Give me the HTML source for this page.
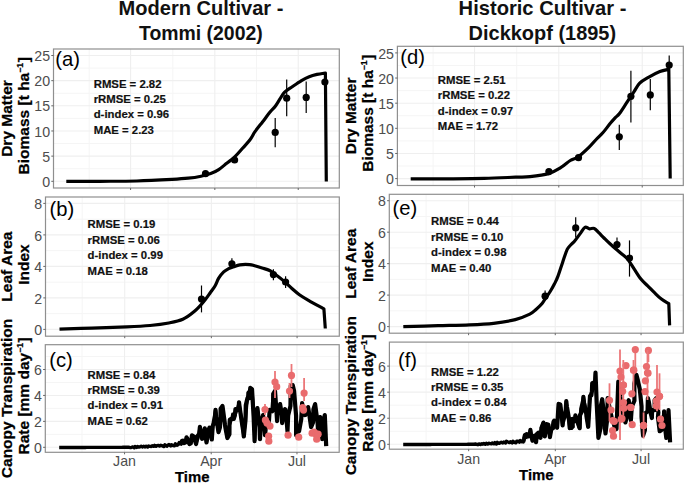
<!DOCTYPE html>
<html><head><meta charset="utf-8"><style>
html,body{margin:0;padding:0;background:#fff;}
svg{display:block;font-family:"Liberation Sans", sans-serif;}
</style></head><body>
<svg width="685" height="484" viewBox="0 0 685 484">
<rect width="685" height="484" fill="#fff"/>
<rect x="53.5" y="49.0" width="285.80" height="139.00" fill="#fff"/>
<line x1="53.5" x2="339.3" y1="168.72" y2="168.72" stroke="#F5F5F5" stroke-width="1"/>
<line x1="53.5" x2="339.3" y1="143.56" y2="143.56" stroke="#F5F5F5" stroke-width="1"/>
<line x1="53.5" x2="339.3" y1="118.40" y2="118.40" stroke="#F5F5F5" stroke-width="1"/>
<line x1="53.5" x2="339.3" y1="93.24" y2="93.24" stroke="#F5F5F5" stroke-width="1"/>
<line x1="53.5" x2="339.3" y1="68.08" y2="68.08" stroke="#F5F5F5" stroke-width="1"/>
<line x1="89.22" x2="89.22" y1="49.0" y2="188.0" stroke="#F5F5F5" stroke-width="1"/>
<line x1="172.79" x2="172.79" y1="49.0" y2="188.0" stroke="#F5F5F5" stroke-width="1"/>
<line x1="256.59" x2="256.59" y1="49.0" y2="188.0" stroke="#F5F5F5" stroke-width="1"/>
<line x1="53.5" x2="339.3" y1="181.30" y2="181.30" stroke="#EFEFEF" stroke-width="1.1"/>
<line x1="53.5" x2="339.3" y1="156.14" y2="156.14" stroke="#EFEFEF" stroke-width="1.1"/>
<line x1="53.5" x2="339.3" y1="130.98" y2="130.98" stroke="#EFEFEF" stroke-width="1.1"/>
<line x1="53.5" x2="339.3" y1="105.82" y2="105.82" stroke="#EFEFEF" stroke-width="1.1"/>
<line x1="53.5" x2="339.3" y1="80.66" y2="80.66" stroke="#EFEFEF" stroke-width="1.1"/>
<line x1="53.5" x2="339.3" y1="55.50" y2="55.50" stroke="#EFEFEF" stroke-width="1.1"/>
<line x1="130.58" x2="130.58" y1="49.0" y2="188.0" stroke="#EFEFEF" stroke-width="1.1"/>
<line x1="214.83" x2="214.83" y1="49.0" y2="188.0" stroke="#EFEFEF" stroke-width="1.1"/>
<line x1="298.23" x2="298.23" y1="49.0" y2="188.0" stroke="#EFEFEF" stroke-width="1.1"/>
<rect x="45.5" y="197.0" width="293.80" height="139.20" fill="#fff"/>
<line x1="45.5" x2="339.3" y1="313.65" y2="313.65" stroke="#F5F5F5" stroke-width="1"/>
<line x1="45.5" x2="339.3" y1="282.15" y2="282.15" stroke="#F5F5F5" stroke-width="1"/>
<line x1="45.5" x2="339.3" y1="250.65" y2="250.65" stroke="#F5F5F5" stroke-width="1"/>
<line x1="45.5" x2="339.3" y1="219.15" y2="219.15" stroke="#F5F5F5" stroke-width="1"/>
<line x1="82.22" x2="82.22" y1="197.0" y2="336.2" stroke="#F5F5F5" stroke-width="1"/>
<line x1="168.13" x2="168.13" y1="197.0" y2="336.2" stroke="#F5F5F5" stroke-width="1"/>
<line x1="254.27" x2="254.27" y1="197.0" y2="336.2" stroke="#F5F5F5" stroke-width="1"/>
<line x1="45.5" x2="339.3" y1="329.40" y2="329.40" stroke="#EFEFEF" stroke-width="1.1"/>
<line x1="45.5" x2="339.3" y1="297.90" y2="297.90" stroke="#EFEFEF" stroke-width="1.1"/>
<line x1="45.5" x2="339.3" y1="266.40" y2="266.40" stroke="#EFEFEF" stroke-width="1.1"/>
<line x1="45.5" x2="339.3" y1="234.90" y2="234.90" stroke="#EFEFEF" stroke-width="1.1"/>
<line x1="45.5" x2="339.3" y1="203.40" y2="203.40" stroke="#EFEFEF" stroke-width="1.1"/>
<line x1="124.74" x2="124.74" y1="197.0" y2="336.2" stroke="#EFEFEF" stroke-width="1.1"/>
<line x1="211.35" x2="211.35" y1="197.0" y2="336.2" stroke="#EFEFEF" stroke-width="1.1"/>
<line x1="297.08" x2="297.08" y1="197.0" y2="336.2" stroke="#EFEFEF" stroke-width="1.1"/>
<rect x="45.3" y="344.7" width="293.90" height="107.60" fill="#fff"/>
<line x1="45.3" x2="339.2" y1="434.33" y2="434.33" stroke="#F5F5F5" stroke-width="1"/>
<line x1="45.3" x2="339.2" y1="408.40" y2="408.40" stroke="#F5F5F5" stroke-width="1"/>
<line x1="45.3" x2="339.2" y1="382.47" y2="382.47" stroke="#F5F5F5" stroke-width="1"/>
<line x1="45.3" x2="339.2" y1="356.53" y2="356.53" stroke="#F5F5F5" stroke-width="1"/>
<line x1="82.04" x2="82.04" y1="344.7" y2="452.3" stroke="#F5F5F5" stroke-width="1"/>
<line x1="167.97" x2="167.97" y1="344.7" y2="452.3" stroke="#F5F5F5" stroke-width="1"/>
<line x1="254.15" x2="254.15" y1="344.7" y2="452.3" stroke="#F5F5F5" stroke-width="1"/>
<line x1="45.3" x2="339.2" y1="447.30" y2="447.30" stroke="#EFEFEF" stroke-width="1.1"/>
<line x1="45.3" x2="339.2" y1="421.37" y2="421.37" stroke="#EFEFEF" stroke-width="1.1"/>
<line x1="45.3" x2="339.2" y1="395.43" y2="395.43" stroke="#EFEFEF" stroke-width="1.1"/>
<line x1="45.3" x2="339.2" y1="369.50" y2="369.50" stroke="#EFEFEF" stroke-width="1.1"/>
<line x1="124.56" x2="124.56" y1="344.7" y2="452.3" stroke="#EFEFEF" stroke-width="1.1"/>
<line x1="211.21" x2="211.21" y1="344.7" y2="452.3" stroke="#EFEFEF" stroke-width="1.1"/>
<line x1="296.97" x2="296.97" y1="344.7" y2="452.3" stroke="#EFEFEF" stroke-width="1.1"/>
<rect x="397.4" y="46.3" width="285.90" height="139.20" fill="#fff"/>
<line x1="397.4" x2="683.3" y1="166.03" y2="166.03" stroke="#F5F5F5" stroke-width="1"/>
<line x1="397.4" x2="683.3" y1="140.89" y2="140.89" stroke="#F5F5F5" stroke-width="1"/>
<line x1="397.4" x2="683.3" y1="115.75" y2="115.75" stroke="#F5F5F5" stroke-width="1"/>
<line x1="397.4" x2="683.3" y1="90.61" y2="90.61" stroke="#F5F5F5" stroke-width="1"/>
<line x1="397.4" x2="683.3" y1="65.47" y2="65.47" stroke="#F5F5F5" stroke-width="1"/>
<line x1="433.14" x2="433.14" y1="46.3" y2="185.5" stroke="#F5F5F5" stroke-width="1"/>
<line x1="516.73" x2="516.73" y1="46.3" y2="185.5" stroke="#F5F5F5" stroke-width="1"/>
<line x1="600.56" x2="600.56" y1="46.3" y2="185.5" stroke="#F5F5F5" stroke-width="1"/>
<line x1="397.4" x2="683.3" y1="178.60" y2="178.60" stroke="#EFEFEF" stroke-width="1.1"/>
<line x1="397.4" x2="683.3" y1="153.46" y2="153.46" stroke="#EFEFEF" stroke-width="1.1"/>
<line x1="397.4" x2="683.3" y1="128.32" y2="128.32" stroke="#EFEFEF" stroke-width="1.1"/>
<line x1="397.4" x2="683.3" y1="103.18" y2="103.18" stroke="#EFEFEF" stroke-width="1.1"/>
<line x1="397.4" x2="683.3" y1="78.04" y2="78.04" stroke="#EFEFEF" stroke-width="1.1"/>
<line x1="397.4" x2="683.3" y1="52.90" y2="52.90" stroke="#EFEFEF" stroke-width="1.1"/>
<line x1="474.51" x2="474.51" y1="46.3" y2="185.5" stroke="#EFEFEF" stroke-width="1.1"/>
<line x1="558.79" x2="558.79" y1="46.3" y2="185.5" stroke="#EFEFEF" stroke-width="1.1"/>
<line x1="642.22" x2="642.22" y1="46.3" y2="185.5" stroke="#EFEFEF" stroke-width="1.1"/>
<rect x="389.3" y="194.3" width="294.00" height="138.90" fill="#fff"/>
<line x1="389.3" x2="683.3" y1="310.86" y2="310.86" stroke="#F5F5F5" stroke-width="1"/>
<line x1="389.3" x2="683.3" y1="279.39" y2="279.39" stroke="#F5F5F5" stroke-width="1"/>
<line x1="389.3" x2="683.3" y1="247.91" y2="247.91" stroke="#F5F5F5" stroke-width="1"/>
<line x1="389.3" x2="683.3" y1="216.44" y2="216.44" stroke="#F5F5F5" stroke-width="1"/>
<line x1="426.05" x2="426.05" y1="194.3" y2="333.2" stroke="#F5F5F5" stroke-width="1"/>
<line x1="512.02" x2="512.02" y1="194.3" y2="333.2" stroke="#F5F5F5" stroke-width="1"/>
<line x1="598.22" x2="598.22" y1="194.3" y2="333.2" stroke="#F5F5F5" stroke-width="1"/>
<line x1="389.3" x2="683.3" y1="326.60" y2="326.60" stroke="#EFEFEF" stroke-width="1.1"/>
<line x1="389.3" x2="683.3" y1="295.12" y2="295.12" stroke="#EFEFEF" stroke-width="1.1"/>
<line x1="389.3" x2="683.3" y1="263.65" y2="263.65" stroke="#EFEFEF" stroke-width="1.1"/>
<line x1="389.3" x2="683.3" y1="232.18" y2="232.18" stroke="#EFEFEF" stroke-width="1.1"/>
<line x1="389.3" x2="683.3" y1="200.70" y2="200.70" stroke="#EFEFEF" stroke-width="1.1"/>
<line x1="468.59" x2="468.59" y1="194.3" y2="333.2" stroke="#EFEFEF" stroke-width="1.1"/>
<line x1="555.26" x2="555.26" y1="194.3" y2="333.2" stroke="#EFEFEF" stroke-width="1.1"/>
<line x1="641.05" x2="641.05" y1="194.3" y2="333.2" stroke="#EFEFEF" stroke-width="1.1"/>
<rect x="389.4" y="342.1" width="293.90" height="107.10" fill="#fff"/>
<line x1="389.4" x2="683.3" y1="431.27" y2="431.27" stroke="#F5F5F5" stroke-width="1"/>
<line x1="389.4" x2="683.3" y1="405.20" y2="405.20" stroke="#F5F5F5" stroke-width="1"/>
<line x1="389.4" x2="683.3" y1="379.13" y2="379.13" stroke="#F5F5F5" stroke-width="1"/>
<line x1="389.4" x2="683.3" y1="353.07" y2="353.07" stroke="#F5F5F5" stroke-width="1"/>
<line x1="426.14" x2="426.14" y1="342.1" y2="449.2" stroke="#F5F5F5" stroke-width="1"/>
<line x1="512.07" x2="512.07" y1="342.1" y2="449.2" stroke="#F5F5F5" stroke-width="1"/>
<line x1="598.25" x2="598.25" y1="342.1" y2="449.2" stroke="#F5F5F5" stroke-width="1"/>
<line x1="389.4" x2="683.3" y1="444.30" y2="444.30" stroke="#EFEFEF" stroke-width="1.1"/>
<line x1="389.4" x2="683.3" y1="418.23" y2="418.23" stroke="#EFEFEF" stroke-width="1.1"/>
<line x1="389.4" x2="683.3" y1="392.17" y2="392.17" stroke="#EFEFEF" stroke-width="1.1"/>
<line x1="389.4" x2="683.3" y1="366.10" y2="366.10" stroke="#EFEFEF" stroke-width="1.1"/>
<line x1="468.66" x2="468.66" y1="342.1" y2="449.2" stroke="#EFEFEF" stroke-width="1.1"/>
<line x1="555.31" x2="555.31" y1="342.1" y2="449.2" stroke="#EFEFEF" stroke-width="1.1"/>
<line x1="641.07" x2="641.07" y1="342.1" y2="449.2" stroke="#EFEFEF" stroke-width="1.1"/>
<path d="M66.30,181.40 C71.92,181.38 88.25,181.37 100.00,181.30 C111.75,181.23 124.78,181.32 136.80,181.00 C148.82,180.68 163.53,179.87 172.10,179.40 C180.67,178.93 183.38,178.73 188.20,178.20 C193.02,177.67 197.25,176.97 201.00,176.20 C204.75,175.43 207.75,174.70 210.70,173.60 C213.65,172.50 216.03,171.32 218.70,169.60 C221.37,167.88 224.03,165.42 226.70,163.30 C229.37,161.18 232.02,159.45 234.70,156.90 C237.38,154.35 240.25,150.85 242.80,148.00 C245.35,145.15 247.97,142.52 250.00,139.80 C252.03,137.08 252.88,134.72 255.00,131.70 C257.12,128.68 260.12,125.05 262.70,121.70 C265.28,118.35 268.43,114.13 270.50,111.60 C272.57,109.07 273.55,108.57 275.10,106.50 C276.65,104.43 278.25,101.55 279.80,99.20 C281.35,96.85 282.33,94.47 284.40,92.40 C286.47,90.33 289.35,88.77 292.20,86.80 C295.05,84.83 298.67,82.28 301.50,80.60 C304.33,78.92 306.62,77.73 309.20,76.70 C311.78,75.67 314.30,75.02 317.00,74.40 C319.70,73.78 324.00,73.23 325.40,73.00 L326.30,181.50" fill="none" stroke="#000" stroke-width="3.2" stroke-linejoin="round" stroke-linecap="butt"/>
<circle cx="205.50" cy="173.70" r="3.6" fill="#000"/>
<circle cx="234.60" cy="160.00" r="3.6" fill="#000"/>
<line x1="275.20" x2="275.20" y1="117.90" y2="147.20" stroke="#000" stroke-width="1.2"/>
<circle cx="275.20" cy="132.40" r="3.6" fill="#000"/>
<line x1="286.70" x2="286.70" y1="79.50" y2="116.30" stroke="#000" stroke-width="1.2"/>
<circle cx="286.70" cy="98.20" r="3.6" fill="#000"/>
<line x1="306.20" x2="306.20" y1="81.50" y2="113.00" stroke="#000" stroke-width="1.2"/>
<circle cx="306.20" cy="97.40" r="3.6" fill="#000"/>
<line x1="324.90" x2="324.90" y1="72.00" y2="92.00" stroke="#000" stroke-width="1.2"/>
<circle cx="324.90" cy="82.00" r="3.6" fill="#000"/>
<path d="M59.50,329.20 C64.87,329.02 80.48,328.48 91.70,328.10 C102.92,327.72 117.07,327.33 126.80,326.90 C136.53,326.47 143.10,326.15 150.10,325.50 C157.10,324.85 163.35,324.03 168.80,323.00 C174.25,321.97 178.52,321.25 182.80,319.30 C187.08,317.35 191.07,314.18 194.50,311.30 C197.93,308.42 200.75,305.13 203.40,302.00 C206.05,298.87 208.47,295.17 210.40,292.50 C212.33,289.83 213.62,288.38 215.00,286.00 C216.38,283.62 217.25,280.55 218.70,278.20 C220.15,275.85 222.05,273.48 223.70,271.90 C225.35,270.32 226.95,269.55 228.60,268.70 C230.25,267.85 231.73,267.45 233.60,266.80 C235.47,266.15 237.12,265.17 239.80,264.80 C242.48,264.43 247.22,264.43 249.70,264.60 C252.18,264.77 252.63,265.23 254.70,265.80 C256.77,266.37 259.62,267.22 262.10,268.00 C264.58,268.78 267.32,269.37 269.60,270.50 C271.88,271.63 273.32,272.95 275.80,274.80 C278.28,276.65 281.82,279.32 284.50,281.60 C287.18,283.88 289.42,286.32 291.90,288.50 C294.38,290.68 296.63,292.73 299.40,294.70 C302.17,296.67 304.42,297.93 308.50,300.30 C312.58,302.67 321.33,307.47 323.90,308.90 L325.30,328.50" fill="none" stroke="#000" stroke-width="3.2" stroke-linejoin="round" stroke-linecap="butt"/>
<line x1="201.50" x2="201.50" y1="285.50" y2="312.40" stroke="#000" stroke-width="1.2"/>
<circle cx="201.50" cy="299.10" r="3.6" fill="#000"/>
<line x1="231.90" x2="231.90" y1="258.20" y2="267.60" stroke="#000" stroke-width="1.2"/>
<circle cx="231.90" cy="263.80" r="3.6" fill="#000"/>
<line x1="273.40" x2="273.40" y1="269.20" y2="280.20" stroke="#000" stroke-width="1.2"/>
<circle cx="273.40" cy="274.60" r="3.6" fill="#000"/>
<line x1="285.60" x2="285.60" y1="276.20" y2="287.90" stroke="#000" stroke-width="1.2"/>
<circle cx="285.60" cy="282.00" r="3.6" fill="#000"/>
<path d="M59.20,447.50 L60.45,447.50 L61.70,447.49 L62.95,447.49 L64.20,447.49 L65.45,447.48 L66.70,447.48 L67.95,447.48 L69.20,447.47 L70.45,447.47 L71.70,447.47 L72.95,447.46 L74.20,447.46 L75.45,447.46 L76.70,447.45 L77.95,447.45 L79.20,447.44 L80.45,447.44 L81.70,447.44 L82.95,447.43 L84.20,447.43 L85.45,447.43 L86.70,447.42 L87.95,447.42 L89.20,447.42 L90.45,447.41 L91.70,447.41 L92.95,447.41 L94.20,447.40 L95.45,447.40 L96.70,447.40 L97.95,447.39 L99.20,447.39 L100.45,447.39 L101.70,447.38 L102.95,447.38 L104.20,447.38 L105.45,447.37 L106.70,447.37 L107.95,447.37 L109.20,447.36 L110.45,447.36 L111.70,447.36 L112.95,447.35 L114.20,447.35 L115.45,447.34 L116.70,447.34 L117.95,447.34 L119.20,447.33 L120.45,447.33 L121.70,447.33 L122.95,447.32 L124.20,447.32 L125.45,447.32 L126.70,447.31 L127.95,447.31 L129.20,447.31 L130.55,447.60 L131.70,447.30 L132.74,446.87 L134.25,447.80 L135.07,446.47 L136.63,447.40 L137.55,446.38 L138.88,447.16 L140.00,446.80 L141.15,446.15 L142.65,447.03 L143.68,446.23 L145.14,446.95 L146.15,446.20 L147.63,447.08 L148.62,446.03 L150.00,446.40 L151.29,446.56 L152.24,445.68 L153.70,446.33 L154.57,445.37 L156.02,446.27 L157.00,445.60 L158.28,445.39 L159.87,446.09 L160.79,445.28 L162.40,445.90 L164.02,446.56 L164.88,444.86 L166.82,446.19 L168.00,445.00 L169.00,444.54 L170.73,445.95 L171.51,444.72 L173.00,445.50 L174.49,445.70 L175.35,443.87 L177.27,445.32 L178.30,444.40 L179.22,442.62 L181.21,444.25 L182.00,441.00" fill="none" stroke="#000" stroke-width="3.4" stroke-linejoin="round" stroke-linecap="butt"/>
<path d="M181.21,444.25 L182.00,441.00 L182.77,440.62 L184.00,443.00 L185.49,442.47 L186.50,437.30 L187.22,438.42 L189.40,444.00 L190.77,443.36 L191.50,439.00 L191.96,435.45 L193.90,436.50 L195.49,442.31 L196.10,444.00 L196.96,436.73 L199.21,433.91 L199.90,426.90 L200.56,430.21 L202.10,438.80 L204.22,435.45 L204.80,428.40 L206.50,442.50 L207.35,432.74 L209.50,427.60 L211.56,435.93 L211.80,439.50 L212.72,425.84 L214.80,421.78 L215.50,409.80 L216.15,416.98 L218.50,432.10 L219.95,427.46 L220.50,418.00 L220.61,408.78 L222.50,406.00 L224.29,419.34 L225.00,425.00 L225.42,427.78 L227.40,438.00 L229.44,434.26 L229.50,425.00 L229.84,419.69 L231.80,418.70 L233.72,419.00 L234.80,415.70 L235.45,409.06 L237.00,410.00 L238.72,409.57 L239.00,402.30 L239.69,407.53 L241.50,420.00 L243.15,430.67 L243.80,436.50 L245.50,420.00 L245.78,405.27 L247.50,397.90 L249.67,398.04 L250.00,390.40 L250.31,387.83 L252.00,389.10 L253.63,417.00 L254.60,441.20 L255.09,422.87 L257.40,408.10 L259.58,427.14 L260.00,439.20 L260.77,424.73 L263.00,415.10 L264.56,428.63 L265.00,435.20 L265.88,427.16 L268.15,426.86 L269.00,420.00 L269.67,409.96 L272.35,411.22 L273.10,401.10 L273.20,393.78 L275.00,391.00 L276.36,409.64 L277.10,421.10 L278.24,409.39 L280.10,404.10 L282.02,415.48 L282.10,423.10 L283.13,414.40 L285.10,409.10 L286.89,424.12 L287.50,431.20 L288.15,415.62 L290.45,405.98 L290.70,390.10 L290.76,385.75 L292.70,385.10 L294.10,391.10 L296.08,415.66 L296.10,435.20 L297.09,429.42 L299.10,431.20 L301.23,419.36 L302.10,403.10 L302.84,407.26 L305.10,415.10 L306.91,412.80 L308.10,407.10 L309.09,413.14 L311.10,427.10 L313.05,422.47 L313.42,409.41 L315.10,404.10 L317.58,422.44 L318.10,433.20 L318.77,421.22 L320.20,417.10 L321.93,430.27 L322.20,439.20 L322.82,423.20 L324.80,415.10 L326.20,446.20" fill="none" stroke="#000" stroke-width="4.2" stroke-linejoin="round" stroke-linecap="butt"/>
<path d="M186.50,437.30 L188.62,442.49 L189.40,444.00 L191.50,439.00 L192.33,435.83 L193.90,436.50 L196.10,444.00 L198.33,437.83 L199.90,426.90 L202.10,438.80 L202.96,431.96 L204.80,428.40 L206.50,442.50 L208.34,437.72 L209.50,427.60 L211.80,439.50 L213.09,422.63 L215.50,409.80 L217.39,423.92 L218.50,432.10 L220.50,418.00 L222.50,406.00 L222.83,413.03 L225.00,425.00 L226.96,435.45 L227.40,438.00 L229.50,425.00 L231.80,418.70 L232.59,413.94 L234.80,415.70 L237.00,410.00 L239.00,402.30 L240.57,413.09 L241.50,420.00 L243.80,436.50 L245.50,420.00 L247.50,397.90 L247.81,392.51 L250.00,390.40 L252.00,389.10 L254.27,418.43 L254.60,441.20 L255.25,423.00 L257.40,408.10 L259.51,426.41 L260.00,439.20 L260.50,424.78" fill="none" stroke="#000" stroke-width="3.0" stroke-linejoin="round" stroke-linecap="butt"/>
<line x1="265.00" x2="265.00" y1="404.00" y2="415.00" stroke="#EC7779" stroke-width="1.8"/>
<circle cx="265.00" cy="409.50" r="3.6" fill="#E96B6D"/>
<circle cx="265.40" cy="420.10" r="3.6" fill="#E96B6D"/>
<circle cx="267.00" cy="423.10" r="3.6" fill="#E96B6D"/>
<circle cx="270.00" cy="426.10" r="3.6" fill="#E96B6D"/>
<circle cx="268.60" cy="436.20" r="3.6" fill="#E96B6D"/>
<circle cx="268.80" cy="441.20" r="3.6" fill="#E96B6D"/>
<line x1="275.00" x2="275.00" y1="371.00" y2="398.10" stroke="#EC7779" stroke-width="1.8"/>
<circle cx="275.00" cy="382.00" r="3.6" fill="#E96B6D"/>
<circle cx="276.70" cy="386.70" r="3.6" fill="#E96B6D"/>
<circle cx="288.10" cy="435.20" r="3.6" fill="#E96B6D"/>
<line x1="289.50" x2="289.50" y1="383.00" y2="398.00" stroke="#EC7779" stroke-width="1.8"/>
<circle cx="289.50" cy="391.10" r="3.6" fill="#E96B6D"/>
<line x1="291.50" x2="291.50" y1="364.00" y2="387.00" stroke="#EC7779" stroke-width="1.8"/>
<circle cx="291.50" cy="375.40" r="3.6" fill="#E96B6D"/>
<circle cx="298.70" cy="437.20" r="3.6" fill="#E96B6D"/>
<line x1="304.10" x2="304.10" y1="378.00" y2="401.10" stroke="#EC7779" stroke-width="1.8"/>
<circle cx="304.10" cy="393.10" r="3.6" fill="#E96B6D"/>
<circle cx="302.70" cy="407.50" r="3.6" fill="#E96B6D"/>
<circle cx="303.50" cy="410.10" r="3.6" fill="#E96B6D"/>
<circle cx="312.10" cy="433.20" r="3.6" fill="#E96B6D"/>
<circle cx="314.10" cy="432.20" r="3.6" fill="#E96B6D"/>
<circle cx="316.10" cy="434.20" r="3.6" fill="#E96B6D"/>
<circle cx="316.70" cy="439.20" r="3.6" fill="#E96B6D"/>
<circle cx="318.10" cy="434.20" r="3.6" fill="#E96B6D"/>
<path d="M410.70,178.90 C417.25,178.88 437.75,178.88 450.00,178.80 C462.25,178.72 473.28,178.67 484.20,178.40 C495.12,178.13 507.87,177.50 515.50,177.20 C523.13,176.90 524.48,177.20 530.00,176.60 C535.52,176.00 543.43,175.13 548.60,173.60 C553.77,172.07 557.38,169.58 561.00,167.40 C564.62,165.22 567.47,162.23 570.30,160.50 C573.13,158.77 574.90,159.18 578.00,157.00 C581.10,154.82 585.80,150.40 588.90,147.40 C592.00,144.40 594.28,141.43 596.60,139.00 C598.92,136.57 600.55,135.37 602.80,132.80 C605.05,130.23 608.05,126.08 610.10,123.60 C612.15,121.12 613.53,119.58 615.10,117.90 C616.67,116.22 617.57,116.03 619.50,113.50 C621.43,110.97 624.30,106.32 626.70,102.70 C629.10,99.08 631.73,95.05 633.90,91.80 C636.07,88.55 637.28,85.60 639.70,83.20 C642.12,80.80 645.03,79.33 648.40,77.40 C651.77,75.47 656.50,72.95 659.90,71.60 C663.30,70.25 667.32,69.68 668.80,69.30 L670.20,178.40" fill="none" stroke="#000" stroke-width="3.2" stroke-linejoin="round" stroke-linecap="butt"/>
<circle cx="548.90" cy="171.60" r="3.6" fill="#000"/>
<circle cx="578.50" cy="157.70" r="3.6" fill="#000"/>
<line x1="619.30" x2="619.30" y1="124.70" y2="149.90" stroke="#000" stroke-width="1.2"/>
<circle cx="619.30" cy="136.80" r="3.6" fill="#000"/>
<line x1="630.90" x2="630.90" y1="70.80" y2="122.40" stroke="#000" stroke-width="1.2"/>
<circle cx="630.90" cy="96.30" r="3.6" fill="#000"/>
<line x1="650.30" x2="650.30" y1="79.00" y2="110.20" stroke="#000" stroke-width="1.2"/>
<circle cx="650.30" cy="94.90" r="3.6" fill="#000"/>
<line x1="669.20" x2="669.20" y1="55.60" y2="75.00" stroke="#000" stroke-width="1.2"/>
<circle cx="669.20" cy="65.10" r="3.6" fill="#000"/>
<path d="M403.30,326.60 C409.12,326.45 427.17,325.98 438.20,325.70 C449.23,325.42 460.27,325.30 469.50,324.90 C478.73,324.50 485.97,324.18 493.60,323.30 C501.23,322.42 509.27,321.13 515.30,319.60 C521.33,318.07 526.35,315.78 529.80,314.10 C533.25,312.42 533.95,311.27 536.00,309.50 C538.05,307.73 540.43,305.50 542.10,303.50 C543.77,301.50 544.60,299.58 546.00,297.50 C547.40,295.42 549.08,293.28 550.50,291.00 C551.92,288.72 553.27,286.23 554.50,283.80 C555.73,281.37 556.55,279.97 557.90,276.40 C559.25,272.83 561.05,266.90 562.60,262.40 C564.15,257.90 565.82,252.33 567.20,249.40 C568.58,246.47 569.65,246.20 570.90,244.80 C572.15,243.40 573.15,242.87 574.70,241.00 C576.25,239.13 578.50,235.88 580.20,233.60 C581.90,231.32 583.35,228.10 584.90,227.30 C586.45,226.50 587.95,228.62 589.50,228.80 C591.05,228.98 592.65,227.75 594.20,228.40 C595.75,229.05 597.17,231.10 598.80,232.70 C600.43,234.30 602.13,236.15 604.00,238.00 C605.87,239.85 607.33,241.38 610.00,243.80 C612.67,246.22 617.12,250.00 620.00,252.50 C622.88,255.00 624.95,256.07 627.30,258.80 C629.65,261.53 631.83,265.52 634.10,268.90 C636.37,272.28 638.63,276.27 640.90,279.10 C643.17,281.93 645.43,283.63 647.70,285.90 C649.97,288.17 652.22,290.50 654.50,292.70 C656.78,294.90 659.02,297.28 661.40,299.10 C663.78,300.92 667.57,302.85 668.80,303.60 L669.60,325.40" fill="none" stroke="#000" stroke-width="3.2" stroke-linejoin="round" stroke-linecap="butt"/>
<line x1="545.10" x2="545.10" y1="290.60" y2="300.30" stroke="#000" stroke-width="1.2"/>
<circle cx="545.10" cy="296.20" r="3.6" fill="#000"/>
<line x1="575.70" x2="575.70" y1="217.30" y2="237.60" stroke="#000" stroke-width="1.2"/>
<circle cx="575.70" cy="227.90" r="3.6" fill="#000"/>
<line x1="617.00" x2="617.00" y1="237.60" y2="248.80" stroke="#000" stroke-width="1.2"/>
<circle cx="617.00" cy="244.60" r="3.6" fill="#000"/>
<line x1="629.50" x2="629.50" y1="240.40" y2="276.60" stroke="#000" stroke-width="1.2"/>
<circle cx="629.50" cy="258.00" r="3.6" fill="#000"/>
<path d="M403.20,444.50 L404.45,444.50 L405.69,444.49 L406.94,444.49 L408.18,444.49 L409.43,444.48 L410.67,444.48 L411.92,444.48 L413.17,444.47 L414.41,444.47 L415.66,444.47 L416.90,444.46 L418.15,444.46 L419.39,444.46 L420.64,444.45 L421.89,444.45 L423.13,444.45 L424.38,444.44 L425.62,444.44 L426.87,444.44 L428.12,444.43 L429.36,444.43 L430.61,444.43 L431.85,444.42 L433.10,444.42 L434.34,444.42 L435.59,444.41 L436.84,444.41 L438.08,444.41 L439.33,444.40 L440.57,444.40 L441.82,444.39 L443.06,444.39 L444.31,444.39 L445.56,444.38 L446.80,444.38 L448.05,444.38 L449.29,444.37 L450.54,444.37 L451.78,444.37 L453.03,444.36 L454.28,444.36 L455.52,444.36 L456.77,444.35 L458.01,444.35 L459.26,444.35 L460.51,444.34 L461.75,444.34 L463.00,444.34 L464.24,444.33 L465.49,444.33 L466.73,444.33 L467.98,444.32 L469.23,444.32 L470.47,444.32 L471.72,444.31 L472.96,444.31 L474.21,444.31 L475.40,443.99 L476.70,444.30 L477.97,444.73 L479.04,443.96 L480.45,444.49 L481.46,443.81 L482.84,444.19 L483.83,443.49 L485.29,444.33 L486.25,443.33 L487.65,444.07 L488.71,443.27 L490.00,443.60 L491.34,443.74 L492.44,442.96 L493.84,443.71 L494.89,442.61 L496.38,444.04 L497.34,442.39 L498.94,443.36 L500.00,442.90 L501.24,442.31 L502.78,442.98 L503.80,442.04 L505.60,442.93 L506.40,441.29 L508.00,442.00 L509.47,442.57 L510.41,441.66 L512.13,442.94 L513.01,441.25 L514.50,442.40 L515.93,442.85 L516.71,441.08 L518.00,441.20 L519.38,442.24 L520.28,440.52 L521.70,441.80 L523.18,441.93 L523.90,439.30" fill="none" stroke="#000" stroke-width="3.4" stroke-linejoin="round" stroke-linecap="butt"/>
<path d="M523.18,441.93 L523.90,439.30 L524.89,435.13 L526.70,434.20 L528.20,436.40 L529.86,435.29 L530.40,429.90 L530.78,433.54 L532.50,440.70 L534.44,439.78 L534.70,435.70 L536.10,442.20 L536.47,434.57 L538.30,432.80 L539.99,437.28 L540.50,437.80 L541.65,427.95 L543.40,422.60 L544.80,436.40 L546.60,424.10 L548.40,424.80 L549.90,437.10 L551.30,429.20 L553.07,428.15 L553.50,421.90 L554.23,420.62 L555.70,423.40 L557.10,427.70 L558.60,403.90 L560.30,404.50 L562.01,418.48 L562.60,425.40 L562.89,414.49 L565.57,412.33 L566.30,401.20 L566.87,406.24 L569.35,420.85 L569.70,428.20 L570.33,423.80 L572.75,426.70 L572.50,418.88 L574.90,420.55 L575.40,415.40 L576.12,417.57 L578.77,425.71 L579.70,428.20 L579.98,415.27 L583.00,409.12 L583.40,396.90 L583.90,402.31 L586.42,414.39 L586.42,415.92 L588.20,426.80 L590.00,395.90 L591.34,395.44 L591.90,391.20 L592.20,383.21 L595.27,381.94 L595.50,372.60 L596.63,401.99 L598.40,437.90 L600.51,428.18 L600.28,408.76 L602.20,399.20 L603.92,413.09 L603.91,418.55 L605.50,433.50 L607.23,418.66 L607.70,398.10 L608.27,401.51 L611.45,416.54 L612.00,420.00 L612.66,419.94 L614.73,427.27 L614.60,424.12 L616.50,429.00 L618.30,381.50 L620.24,394.80 L620.40,396.94 L622.00,410.00 L624.13,416.59 L623.67,416.32 L625.40,422.40 L626.86,416.79 L626.61,403.92 L628.70,400.30 L630.19,413.41 L630.90,420.20 L631.81,406.56 L634.43,400.76 L634.36,383.57 L636.40,374.90 L638.21,381.54 L637.84,380.55 L639.80,389.20 L641.56,406.53 L641.52,416.88 L643.10,435.70 L644.92,430.05 L644.92,413.61 L647.55,411.49 L647.90,398.10 L648.83,401.76 L650.89,414.03 L651.90,418.00 L652.08,410.00 L654.76,410.08 L654.62,400.32 L656.30,398.10 L658.39,412.44 L657.94,416.87 L659.70,431.20 L661.33,430.13 L661.14,417.86 L663.90,419.70 L664.10,411.30 L664.47,422.46 L666.30,437.90 L668.17,426.62 L668.50,410.20 L670.10,442.30" fill="none" stroke="#000" stroke-width="4.2" stroke-linejoin="round" stroke-linecap="butt"/>
<path d="M525.96,438.96 L526.70,434.20 L528.20,436.40 L530.40,429.90 L532.50,440.70 L534.70,435.70 L536.10,442.20 L538.30,432.80 L540.50,437.80 L541.07,427.34 L543.40,422.60 L544.80,436.40 L546.60,424.10 L548.40,424.80 L549.90,437.10 L551.30,429.20 L553.50,421.90 L555.70,423.40 L557.10,427.70 L558.60,403.90 L560.30,404.50 L562.60,425.40 L565.04,416.73 L566.30,401.20 L567.07,411.69 L569.70,428.20 L571.83,428.49 L571.99,419.37 L574.67,421.97 L575.40,415.40 L576.04,418.03 L579.13,427.70 L579.70,428.20 L580.61,408.80 L583.40,396.90 L585.85,409.75 L586.23,414.32 L588.20,426.80 L590.00,395.90 L591.90,391.20 L594.22,384.35 L595.50,372.60" fill="none" stroke="#000" stroke-width="3.0" stroke-linejoin="round" stroke-linecap="butt"/>
<line x1="635.30" x2="635.30" y1="349.00" y2="371.50" stroke="#EC7779" stroke-width="1.8"/>
<circle cx="635.30" cy="349.60" r="3.6" fill="#E96B6D"/>
<line x1="648.40" x2="648.40" y1="350.00" y2="362.00" stroke="#EC7779" stroke-width="1.8"/>
<circle cx="648.40" cy="350.40" r="3.6" fill="#E96B6D"/>
<circle cx="626.00" cy="365.60" r="3.6" fill="#E96B6D"/>
<line x1="620.00" x2="620.00" y1="349.40" y2="440.00" stroke="#EC7779" stroke-width="1.8"/>
<circle cx="620.00" cy="371.10" r="3.6" fill="#E96B6D"/>
<line x1="623.30" x2="623.30" y1="360.00" y2="415.80" stroke="#EC7779" stroke-width="1.8"/>
<circle cx="623.30" cy="385.00" r="3.6" fill="#E96B6D"/>
<line x1="633.50" x2="633.50" y1="360.00" y2="395.30" stroke="#EC7779" stroke-width="1.8"/>
<circle cx="633.50" cy="370.20" r="3.6" fill="#E96B6D"/>
<line x1="647.50" x2="647.50" y1="350.00" y2="400.00" stroke="#EC7779" stroke-width="1.8"/>
<circle cx="647.50" cy="372.80" r="3.6" fill="#E96B6D"/>
<line x1="643.60" x2="643.60" y1="412.40" y2="438.50" stroke="#EC7779" stroke-width="1.8"/>
<circle cx="643.60" cy="425.40" r="3.6" fill="#E96B6D"/>
<line x1="659.50" x2="659.50" y1="373.30" y2="410.00" stroke="#EC7779" stroke-width="1.8"/>
<circle cx="659.50" cy="396.30" r="3.6" fill="#E96B6D"/>
<circle cx="621.00" cy="377.10" r="3.6" fill="#E96B6D"/>
<circle cx="633.80" cy="370.20" r="3.6" fill="#E96B6D"/>
<circle cx="646.50" cy="366.50" r="3.6" fill="#E96B6D"/>
<circle cx="648.00" cy="373.20" r="3.6" fill="#E96B6D"/>
<circle cx="645.40" cy="380.80" r="3.6" fill="#E96B6D"/>
<circle cx="623.50" cy="385.00" r="3.6" fill="#E96B6D"/>
<circle cx="622.60" cy="391.30" r="3.6" fill="#E96B6D"/>
<circle cx="645.00" cy="391.60" r="3.6" fill="#E96B6D"/>
<circle cx="631.90" cy="393.80" r="3.6" fill="#E96B6D"/>
<line x1="657.00" x2="657.00" y1="364.90" y2="411.30" stroke="#EC7779" stroke-width="1.8"/>
<circle cx="657.00" cy="392.00" r="3.6" fill="#E96B6D"/>
<circle cx="659.50" cy="396.30" r="3.6" fill="#E96B6D"/>
<circle cx="656.40" cy="400.90" r="3.6" fill="#E96B6D"/>
<line x1="609.50" x2="609.50" y1="383.30" y2="421.40" stroke="#EC7779" stroke-width="1.8"/>
<circle cx="609.50" cy="400.30" r="3.6" fill="#E96B6D"/>
<circle cx="611.00" cy="410.00" r="3.6" fill="#E96B6D"/>
<circle cx="612.80" cy="420.60" r="3.6" fill="#E96B6D"/>
<circle cx="614.30" cy="421.30" r="3.6" fill="#E96B6D"/>
<circle cx="612.60" cy="430.60" r="3.6" fill="#E96B6D"/>
<circle cx="613.50" cy="436.20" r="3.6" fill="#E96B6D"/>
<circle cx="622.00" cy="418.70" r="3.6" fill="#E96B6D"/>
<circle cx="623.50" cy="402.60" r="3.6" fill="#E96B6D"/>
<circle cx="630.90" cy="407.50" r="3.6" fill="#E96B6D"/>
<circle cx="632.20" cy="424.70" r="3.6" fill="#E96B6D"/>
<circle cx="643.40" cy="425.50" r="3.6" fill="#E96B6D"/>
<circle cx="660.50" cy="419.20" r="3.6" fill="#E96B6D"/>
<circle cx="662.00" cy="425.50" r="3.6" fill="#E96B6D"/>
<circle cx="656.30" cy="405.80" r="3.6" fill="#E96B6D"/>
<circle cx="623.80" cy="408.20" r="3.6" fill="#E96B6D"/>
<circle cx="630.60" cy="407.30" r="3.6" fill="#E96B6D"/>
<circle cx="621.20" cy="419.20" r="3.6" fill="#E96B6D"/>
<rect x="53.5" y="49.0" width="285.80" height="139.00" fill="none" stroke="#8F8F8F" stroke-width="1.2"/>
<line x1="51.30" x2="53.5" y1="181.30" y2="181.30" stroke="#666666" stroke-width="1"/>
<text x="50.10" y="186.90" font-size="14.2" fill="#4D4D4D" text-anchor="end">0</text>
<line x1="51.30" x2="53.5" y1="156.14" y2="156.14" stroke="#666666" stroke-width="1"/>
<text x="50.10" y="161.74" font-size="14.2" fill="#4D4D4D" text-anchor="end">5</text>
<line x1="51.30" x2="53.5" y1="130.98" y2="130.98" stroke="#666666" stroke-width="1"/>
<text x="50.10" y="136.58" font-size="14.2" fill="#4D4D4D" text-anchor="end">10</text>
<line x1="51.30" x2="53.5" y1="105.82" y2="105.82" stroke="#666666" stroke-width="1"/>
<text x="50.10" y="111.42" font-size="14.2" fill="#4D4D4D" text-anchor="end">15</text>
<line x1="51.30" x2="53.5" y1="80.66" y2="80.66" stroke="#666666" stroke-width="1"/>
<text x="50.10" y="86.26" font-size="14.2" fill="#4D4D4D" text-anchor="end">20</text>
<line x1="51.30" x2="53.5" y1="55.50" y2="55.50" stroke="#666666" stroke-width="1"/>
<text x="50.10" y="61.10" font-size="14.2" fill="#4D4D4D" text-anchor="end">25</text>
<line x1="130.58" x2="130.58" y1="188.0" y2="190.00" stroke="#666666" stroke-width="1"/>
<line x1="214.83" x2="214.83" y1="188.0" y2="190.00" stroke="#666666" stroke-width="1"/>
<line x1="298.23" x2="298.23" y1="188.0" y2="190.00" stroke="#666666" stroke-width="1"/>
<rect x="45.5" y="197.0" width="293.80" height="139.20" fill="none" stroke="#8F8F8F" stroke-width="1.2"/>
<line x1="43.30" x2="45.5" y1="329.40" y2="329.40" stroke="#666666" stroke-width="1"/>
<text x="42.10" y="335.00" font-size="14.2" fill="#4D4D4D" text-anchor="end">0</text>
<line x1="43.30" x2="45.5" y1="297.90" y2="297.90" stroke="#666666" stroke-width="1"/>
<text x="42.10" y="303.50" font-size="14.2" fill="#4D4D4D" text-anchor="end">2</text>
<line x1="43.30" x2="45.5" y1="266.40" y2="266.40" stroke="#666666" stroke-width="1"/>
<text x="42.10" y="272.00" font-size="14.2" fill="#4D4D4D" text-anchor="end">4</text>
<line x1="43.30" x2="45.5" y1="234.90" y2="234.90" stroke="#666666" stroke-width="1"/>
<text x="42.10" y="240.50" font-size="14.2" fill="#4D4D4D" text-anchor="end">6</text>
<line x1="43.30" x2="45.5" y1="203.40" y2="203.40" stroke="#666666" stroke-width="1"/>
<text x="42.10" y="209.00" font-size="14.2" fill="#4D4D4D" text-anchor="end">8</text>
<line x1="124.74" x2="124.74" y1="336.2" y2="338.20" stroke="#666666" stroke-width="1"/>
<line x1="211.35" x2="211.35" y1="336.2" y2="338.20" stroke="#666666" stroke-width="1"/>
<line x1="297.08" x2="297.08" y1="336.2" y2="338.20" stroke="#666666" stroke-width="1"/>
<rect x="45.3" y="344.7" width="293.90" height="107.60" fill="none" stroke="#8F8F8F" stroke-width="1.2"/>
<line x1="43.10" x2="45.3" y1="447.30" y2="447.30" stroke="#666666" stroke-width="1"/>
<text x="41.90" y="452.90" font-size="14.2" fill="#4D4D4D" text-anchor="end">0</text>
<line x1="43.10" x2="45.3" y1="421.37" y2="421.37" stroke="#666666" stroke-width="1"/>
<text x="41.90" y="426.97" font-size="14.2" fill="#4D4D4D" text-anchor="end">2</text>
<line x1="43.10" x2="45.3" y1="395.43" y2="395.43" stroke="#666666" stroke-width="1"/>
<text x="41.90" y="401.03" font-size="14.2" fill="#4D4D4D" text-anchor="end">4</text>
<line x1="43.10" x2="45.3" y1="369.50" y2="369.50" stroke="#666666" stroke-width="1"/>
<text x="41.90" y="375.10" font-size="14.2" fill="#4D4D4D" text-anchor="end">6</text>
<line x1="124.56" x2="124.56" y1="452.3" y2="454.30" stroke="#666666" stroke-width="1"/>
<line x1="211.21" x2="211.21" y1="452.3" y2="454.30" stroke="#666666" stroke-width="1"/>
<line x1="296.97" x2="296.97" y1="452.3" y2="454.30" stroke="#666666" stroke-width="1"/>
<rect x="397.4" y="46.3" width="285.90" height="139.20" fill="none" stroke="#8F8F8F" stroke-width="1.2"/>
<line x1="395.20" x2="397.4" y1="178.60" y2="178.60" stroke="#666666" stroke-width="1"/>
<text x="394.00" y="184.20" font-size="14.2" fill="#4D4D4D" text-anchor="end">0</text>
<line x1="395.20" x2="397.4" y1="153.46" y2="153.46" stroke="#666666" stroke-width="1"/>
<text x="394.00" y="159.06" font-size="14.2" fill="#4D4D4D" text-anchor="end">5</text>
<line x1="395.20" x2="397.4" y1="128.32" y2="128.32" stroke="#666666" stroke-width="1"/>
<text x="394.00" y="133.92" font-size="14.2" fill="#4D4D4D" text-anchor="end">10</text>
<line x1="395.20" x2="397.4" y1="103.18" y2="103.18" stroke="#666666" stroke-width="1"/>
<text x="394.00" y="108.78" font-size="14.2" fill="#4D4D4D" text-anchor="end">15</text>
<line x1="395.20" x2="397.4" y1="78.04" y2="78.04" stroke="#666666" stroke-width="1"/>
<text x="394.00" y="83.64" font-size="14.2" fill="#4D4D4D" text-anchor="end">20</text>
<line x1="395.20" x2="397.4" y1="52.90" y2="52.90" stroke="#666666" stroke-width="1"/>
<text x="394.00" y="58.50" font-size="14.2" fill="#4D4D4D" text-anchor="end">25</text>
<line x1="474.51" x2="474.51" y1="185.5" y2="187.50" stroke="#666666" stroke-width="1"/>
<line x1="558.79" x2="558.79" y1="185.5" y2="187.50" stroke="#666666" stroke-width="1"/>
<line x1="642.22" x2="642.22" y1="185.5" y2="187.50" stroke="#666666" stroke-width="1"/>
<rect x="389.3" y="194.3" width="294.00" height="138.90" fill="none" stroke="#8F8F8F" stroke-width="1.2"/>
<line x1="387.10" x2="389.3" y1="326.60" y2="326.60" stroke="#666666" stroke-width="1"/>
<text x="385.90" y="332.20" font-size="14.2" fill="#4D4D4D" text-anchor="end">0</text>
<line x1="387.10" x2="389.3" y1="295.12" y2="295.12" stroke="#666666" stroke-width="1"/>
<text x="385.90" y="300.73" font-size="14.2" fill="#4D4D4D" text-anchor="end">2</text>
<line x1="387.10" x2="389.3" y1="263.65" y2="263.65" stroke="#666666" stroke-width="1"/>
<text x="385.90" y="269.25" font-size="14.2" fill="#4D4D4D" text-anchor="end">4</text>
<line x1="387.10" x2="389.3" y1="232.18" y2="232.18" stroke="#666666" stroke-width="1"/>
<text x="385.90" y="237.78" font-size="14.2" fill="#4D4D4D" text-anchor="end">6</text>
<line x1="387.10" x2="389.3" y1="200.70" y2="200.70" stroke="#666666" stroke-width="1"/>
<text x="385.90" y="206.30" font-size="14.2" fill="#4D4D4D" text-anchor="end">8</text>
<line x1="468.59" x2="468.59" y1="333.2" y2="335.20" stroke="#666666" stroke-width="1"/>
<line x1="555.26" x2="555.26" y1="333.2" y2="335.20" stroke="#666666" stroke-width="1"/>
<line x1="641.05" x2="641.05" y1="333.2" y2="335.20" stroke="#666666" stroke-width="1"/>
<rect x="389.4" y="342.1" width="293.90" height="107.10" fill="none" stroke="#8F8F8F" stroke-width="1.2"/>
<line x1="387.20" x2="389.4" y1="444.30" y2="444.30" stroke="#666666" stroke-width="1"/>
<text x="386.00" y="449.90" font-size="14.2" fill="#4D4D4D" text-anchor="end">0</text>
<line x1="387.20" x2="389.4" y1="418.23" y2="418.23" stroke="#666666" stroke-width="1"/>
<text x="386.00" y="423.83" font-size="14.2" fill="#4D4D4D" text-anchor="end">2</text>
<line x1="387.20" x2="389.4" y1="392.17" y2="392.17" stroke="#666666" stroke-width="1"/>
<text x="386.00" y="397.77" font-size="14.2" fill="#4D4D4D" text-anchor="end">4</text>
<line x1="387.20" x2="389.4" y1="366.10" y2="366.10" stroke="#666666" stroke-width="1"/>
<text x="386.00" y="371.70" font-size="14.2" fill="#4D4D4D" text-anchor="end">6</text>
<line x1="468.66" x2="468.66" y1="449.2" y2="451.20" stroke="#666666" stroke-width="1"/>
<line x1="555.31" x2="555.31" y1="449.2" y2="451.20" stroke="#666666" stroke-width="1"/>
<line x1="641.07" x2="641.07" y1="449.2" y2="451.20" stroke="#666666" stroke-width="1"/>
<text x="55.20" y="65.90" font-size="20.2" fill="#000">(a)</text>
<text x="49.60" y="216.30" font-size="20.2" fill="#000">(b)</text>
<text x="49.30" y="366.50" font-size="20.2" fill="#000">(c)</text>
<text x="400.20" y="63.80" font-size="20.2" fill="#000">(d)</text>
<text x="392.60" y="215.00" font-size="20.2" fill="#000">(e)</text>
<text x="398.00" y="366.50" font-size="20.2" fill="#000">(f)</text>
<text x="93.70" y="87.80" font-size="11.35" font-weight="bold" fill="#111" stroke="#111" stroke-width="0.2">RMSE = 2.82</text>
<text x="93.70" y="103.00" font-size="11.35" font-weight="bold" fill="#111" stroke="#111" stroke-width="0.2">rRMSE = 0.25</text>
<text x="93.70" y="118.30" font-size="11.35" font-weight="bold" fill="#111" stroke="#111" stroke-width="0.2">d-index = 0.96</text>
<text x="93.70" y="133.60" font-size="11.35" font-weight="bold" fill="#111" stroke="#111" stroke-width="0.2">MAE = 2.23</text>
<text x="87.60" y="228.30" font-size="11.35" font-weight="bold" fill="#111" stroke="#111" stroke-width="0.2">RMSE = 0.19</text>
<text x="87.60" y="243.80" font-size="11.35" font-weight="bold" fill="#111" stroke="#111" stroke-width="0.2">rRMSE = 0.06</text>
<text x="87.60" y="259.20" font-size="11.35" font-weight="bold" fill="#111" stroke="#111" stroke-width="0.2">d-index = 0.99</text>
<text x="87.60" y="274.80" font-size="11.35" font-weight="bold" fill="#111" stroke="#111" stroke-width="0.2">MAE = 0.18</text>
<text x="87.60" y="378.50" font-size="11.35" font-weight="bold" fill="#111" stroke="#111" stroke-width="0.2">RMSE = 0.84</text>
<text x="87.60" y="394.00" font-size="11.35" font-weight="bold" fill="#111" stroke="#111" stroke-width="0.2">rRMSE = 0.39</text>
<text x="87.60" y="409.30" font-size="11.35" font-weight="bold" fill="#111" stroke="#111" stroke-width="0.2">d-index = 0.91</text>
<text x="87.60" y="424.90" font-size="11.35" font-weight="bold" fill="#111" stroke="#111" stroke-width="0.2">MAE = 0.62</text>
<text x="437.80" y="83.70" font-size="11.35" font-weight="bold" fill="#111" stroke="#111" stroke-width="0.2">RMSE = 2.51</text>
<text x="437.80" y="99.10" font-size="11.35" font-weight="bold" fill="#111" stroke="#111" stroke-width="0.2">rRMSE = 0.22</text>
<text x="437.80" y="114.60" font-size="11.35" font-weight="bold" fill="#111" stroke="#111" stroke-width="0.2">d-index = 0.97</text>
<text x="437.80" y="130.20" font-size="11.35" font-weight="bold" fill="#111" stroke="#111" stroke-width="0.2">MAE = 1.72</text>
<text x="431.10" y="225.40" font-size="11.35" font-weight="bold" fill="#111" stroke="#111" stroke-width="0.2">RMSE = 0.44</text>
<text x="431.10" y="241.00" font-size="11.35" font-weight="bold" fill="#111" stroke="#111" stroke-width="0.2">rRMSE = 0.10</text>
<text x="431.10" y="256.40" font-size="11.35" font-weight="bold" fill="#111" stroke="#111" stroke-width="0.2">d-index = 0.98</text>
<text x="431.10" y="271.90" font-size="11.35" font-weight="bold" fill="#111" stroke="#111" stroke-width="0.2">MAE = 0.40</text>
<text x="431.10" y="375.60" font-size="11.35" font-weight="bold" fill="#111" stroke="#111" stroke-width="0.2">RMSE = 1.22</text>
<text x="431.10" y="390.90" font-size="11.35" font-weight="bold" fill="#111" stroke="#111" stroke-width="0.2">rRMSE = 0.35</text>
<text x="431.10" y="406.30" font-size="11.35" font-weight="bold" fill="#111" stroke="#111" stroke-width="0.2">d-index = 0.84</text>
<text x="431.10" y="421.70" font-size="11.35" font-weight="bold" fill="#111" stroke="#111" stroke-width="0.2">MAE = 0.86</text>
<text transform="translate(12.10,118.50) rotate(-90)" font-size="15.5" font-weight="bold" text-anchor="middle" fill="#000" stroke="#000" stroke-width="0.25">Dry Matter</text>
<text transform="translate(29.00,115.80) rotate(-90)" font-size="15.5" font-weight="bold" text-anchor="middle" fill="#000" stroke="#000" stroke-width="0.25">Biomass [t ha<tspan font-size="8.6" dy="-6.2">−1</tspan><tspan dy="6.2" dx="0.6">]</tspan></text>
<text transform="translate(12.10,266.60) rotate(-90)" font-size="15.5" font-weight="bold" text-anchor="middle" fill="#000" stroke="#000" stroke-width="0.25">Leaf Area</text>
<text transform="translate(29.00,264.60) rotate(-90)" font-size="15.5" font-weight="bold" text-anchor="middle" fill="#000" stroke="#000" stroke-width="0.25">Index</text>
<text transform="translate(12.10,398.50) rotate(-90)" font-size="15.5" font-weight="bold" text-anchor="middle" fill="#000" stroke="#000" stroke-width="0.25">Canopy Transpiration</text>
<text transform="translate(29.00,395.90) rotate(-90)" font-size="15.5" font-weight="bold" text-anchor="middle" fill="#000" stroke="#000" stroke-width="0.25">Rate [mm day<tspan font-size="8.6" dy="-6.2">−1</tspan><tspan dy="6.2" dx="0.6">]</tspan></text>
<text transform="translate(355.90,115.90) rotate(-90)" font-size="15.5" font-weight="bold" text-anchor="middle" fill="#000" stroke="#000" stroke-width="0.25">Dry Matter</text>
<text transform="translate(373.00,113.20) rotate(-90)" font-size="15.5" font-weight="bold" text-anchor="middle" fill="#000" stroke="#000" stroke-width="0.25">Biomass [t ha<tspan font-size="8.6" dy="-6.2">−1</tspan><tspan dy="6.2" dx="0.6">]</tspan></text>
<text transform="translate(355.90,263.75) rotate(-90)" font-size="15.5" font-weight="bold" text-anchor="middle" fill="#000" stroke="#000" stroke-width="0.25">Leaf Area</text>
<text transform="translate(373.00,261.75) rotate(-90)" font-size="15.5" font-weight="bold" text-anchor="middle" fill="#000" stroke="#000" stroke-width="0.25">Index</text>
<text transform="translate(355.90,395.65) rotate(-90)" font-size="15.5" font-weight="bold" text-anchor="middle" fill="#000" stroke="#000" stroke-width="0.25">Canopy Transpiration</text>
<text transform="translate(373.00,393.05) rotate(-90)" font-size="15.5" font-weight="bold" text-anchor="middle" fill="#000" stroke="#000" stroke-width="0.25">Rate [mm day<tspan font-size="8.6" dy="-6.2">−1</tspan><tspan dy="6.2" dx="0.6">]</tspan></text>
<text x="124.56" y="466.30" font-size="14.2" fill="#4D4D4D" text-anchor="middle">Jan</text>
<text x="211.21" y="466.30" font-size="14.2" fill="#4D4D4D" text-anchor="middle">Apr</text>
<text x="296.97" y="466.30" font-size="14.2" fill="#4D4D4D" text-anchor="middle">Jul</text>
<text x="468.66" y="463.70" font-size="14.2" fill="#4D4D4D" text-anchor="middle">Jan</text>
<text x="555.31" y="463.70" font-size="14.2" fill="#4D4D4D" text-anchor="middle">Apr</text>
<text x="641.07" y="463.70" font-size="14.2" fill="#4D4D4D" text-anchor="middle">Jul</text>
<text x="192.25" y="481.6" font-size="14.9" font-weight="bold" text-anchor="middle" fill="#000" stroke="#000" stroke-width="0.25">Time</text>
<text x="536.35" y="479.5" font-size="14.9" font-weight="bold" text-anchor="middle" fill="#000" stroke="#000" stroke-width="0.25">Time</text>
<text x="118.60" y="14.90" font-size="20.2" font-weight="bold" textLength="164.8" lengthAdjust="spacingAndGlyphs" fill="#111">Modern Cultivar -</text>
<text x="139.00" y="40.40" font-size="20.2" font-weight="bold" textLength="123.7" lengthAdjust="spacingAndGlyphs" fill="#111">Tommi (2002)</text>
<text x="458.60" y="14.90" font-size="20.2" font-weight="bold" textLength="167.8" lengthAdjust="spacingAndGlyphs" fill="#111">Historic Cultivar -</text>
<text x="468.60" y="40.40" font-size="20.2" font-weight="bold" textLength="147.5" lengthAdjust="spacingAndGlyphs" fill="#111">Dickkopf (1895)</text>
</svg>
</body></html>
